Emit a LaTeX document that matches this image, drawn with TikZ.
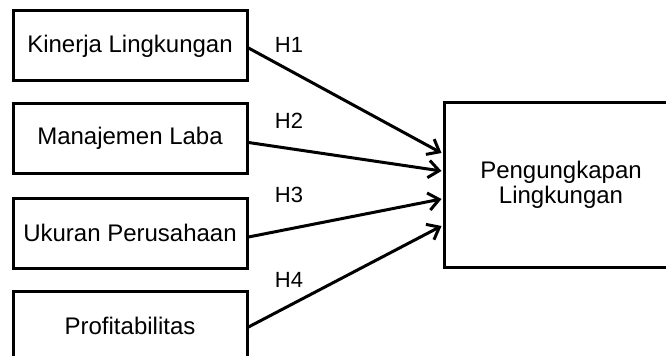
\documentclass[tikz,border=0pt]{standalone}
\usepackage{fontspec}
\setmainfont{Liberation Sans}
\usetikzlibrary{arrows.meta,calc}
\begin{document}
\begin{tikzpicture}[x=0.75pt,y=-0.75pt,
  box/.style={draw=black,line width=2.25pt,inner sep=0pt,minimum width=175.5pt,minimum height=52.5pt,font=\fontsize{18}{19}\selectfont,align=center},
  bigbox/.style={draw=black,line width=2.25pt,inner sep=0pt,minimum width=175.5pt,minimum height=123pt,font=\fontsize{18}{19}\selectfont,align=center},
  hlab/.style={inner sep=0pt,font=\fontsize{16.5}{18}\selectfont},
  arr/.style={line width=2.25pt,-{Straight Barb[length=8pt,width=13pt,line width=2.25pt]}}]
\useasboundingbox[fill=white] (0,0) rectangle (666,356);
\begin{scope}
\clip (0,0) rectangle (666,356);
\node[box] (b1) at (130,46) {Kinerja Lingkungan};
\node[box] (b2) at (130,138.5) {Manajemen Laba};
\node[box] (b3) at (130,233) {Ukuran Perusahaan};
\node[box] (b4) at (130,326) {Profitabilitas};
\node[bigbox] (pk) at (561,185) {Pengungkapan\\Lingkungan};
\end{scope}
\node[hlab] (h1) at (289,45) {H1};
\node[hlab] (h2) at (289,121) {H2};
\node[hlab] (h3) at (289,195) {H3};
\node[hlab] (h4) at (289,280) {H4};
\draw[arr] ($(b1.east)+(0,2)$) -- ($(pk.west)+(-1,-32)$);
\draw[arr] ($(b2.east)+(0,4)$) -- ($(pk.west)+(-1,-14)$);
\draw[arr] ($(b3.east)+(0,4)$) -- ($(pk.west)+(-1,14)$);
\draw[arr] ($(b4.east)+(0,1)$) -- ($(pk.west)+(-1,41)$);
\end{tikzpicture}
\end{document}
